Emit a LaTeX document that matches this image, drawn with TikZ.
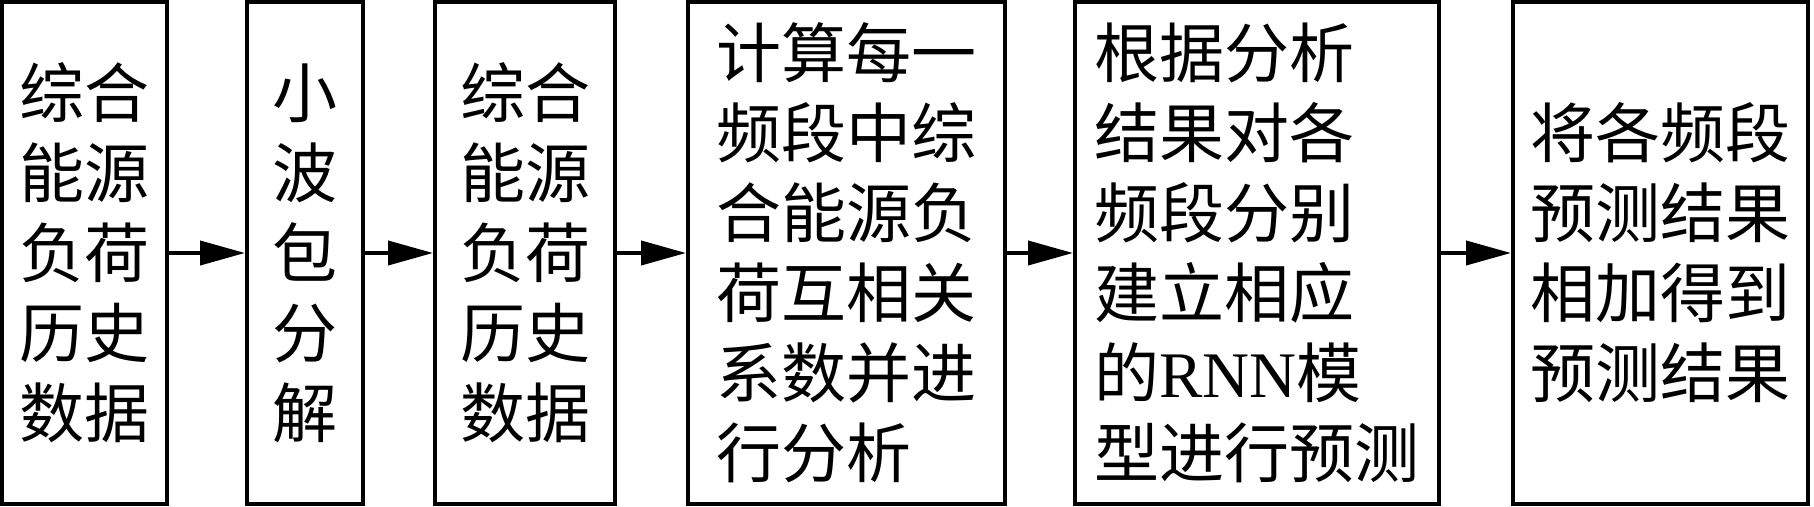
\documentclass[tikz,border=0pt]{standalone}
\usepackage{fontspec}
\setmainfont{Noto Sans CJK SC}
\newfontfamily\latinfont{Liberation Serif}
\usetikzlibrary{arrows.meta}
\tikzset{
  box/.style={draw=black, line width=2pt, rectangle, inner sep=0pt,
    minimum height=251pt, align=left, font=\fontsize{32.5pt}{40pt}\selectfont},
  arr/.style={draw=black, line width=2pt, -{Triangle[length=22.5pt,width=12pt]}}
}
\begin{document}
\begin{tikzpicture}[x=0.5pt,y=-0.5pt]
\useasboundingbox[fill=white] (0,0) rectangle (1814,507);
\node[box, minimum width=82.5pt] (b1) at (84.5,253) {综合\\能源\\负荷\\历史\\数据};
\node[box, minimum width=58pt] (b2) at (305,253) {小\\波\\包\\分\\解};
\node[box, minimum width=90pt] (b3) at (525,253) {综合\\能源\\负荷\\历史\\数据};
\node[box, minimum width=158.5pt] (b4) at (846.5,253) {计算每一\\频段中综\\合能源负\\荷互相关\\系数并进\\行分析};
\node[box, minimum width=182pt] (b5) at (1257,253) {根据分析\\结果对各\\频段分别\\建立相应\\的{\latinfont RNN}模\\型进行预测};
\node[box, minimum width=147.5pt] (b6) at (1660.5,253) {将各频段\\预测结果\\相加得到\\预测结果};
\draw[arr] (b1.east) -- (b2.west);
\draw[arr] (b2.east) -- (b3.west);
\draw[arr] (b3.east) -- (b4.west);
\draw[arr] (b4.east) -- (b5.west);
\draw[arr] (b5.east) -- (b6.west);
\end{tikzpicture}
\end{document}
